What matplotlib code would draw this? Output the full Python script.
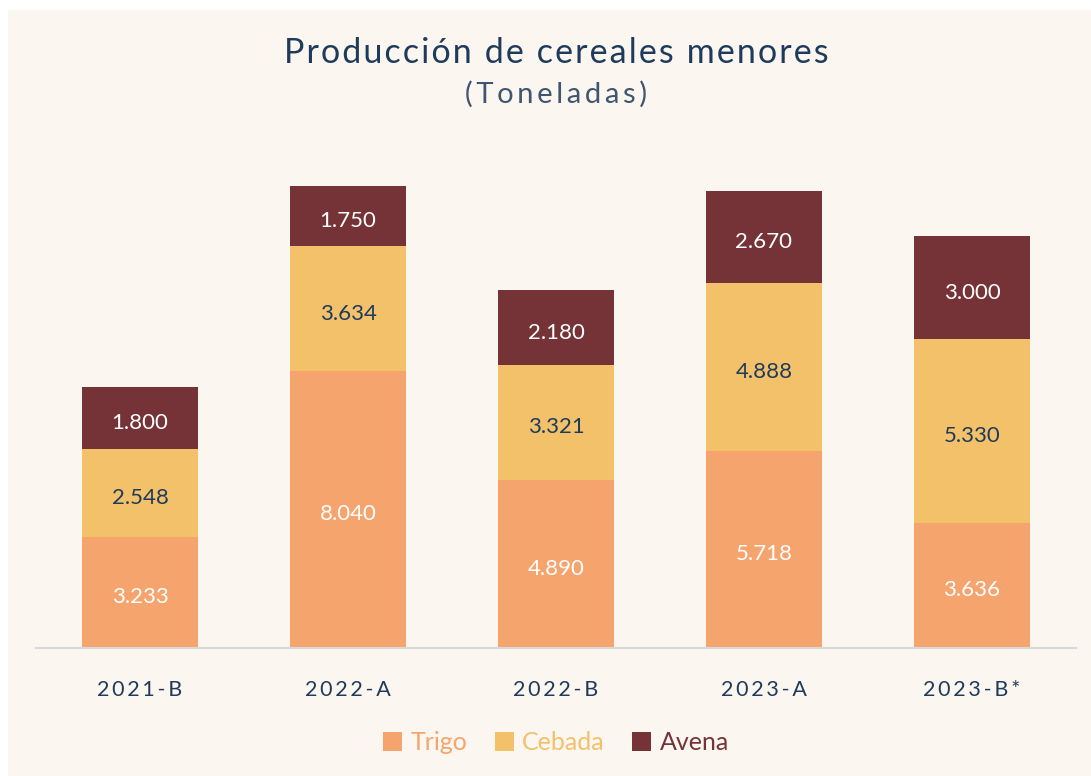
import matplotlib.pyplot as plt
from matplotlib.patches import Rectangle
import numpy as np

periodos = ['2021-B', '2022-A', '2022-B', '2023-A', '2023-B*']
trigo = [3233, 8040, 4890, 5718, 3636]
cebada = [2548, 3634, 3321, 4888, 5330]
avena = [1800, 1750, 2180, 2670, 3000]

fondo = '#FBF6EF'
azul = '#1F3B5C'
c_trigo = '#F5A46E'
c_cebada = '#F2C16A'
c_avena = '#763337'

plt.rcParams['font.family'] = ['Lato', 'DejaVu Sans']

def espaciar(s, sep='\u2009'):
    # imitar el espaciado amplio entre letras del original
    return sep.join(s)

fig = plt.figure(figsize=(10.91, 7.76), dpi=100, facecolor='white')
fig.patches.append(Rectangle((8/1091, 0), 1 - 8/1091, 1 - 10/776,
                             transform=fig.transFigure, facecolor=fondo,
                             edgecolor='none', zorder=-10))

ax = fig.add_axes([36/1091, 128/776, 1040/1091, 499/776])
ax.set_facecolor('none')

x = np.arange(len(periodos))
ancho = 0.558
trigo = np.array(trigo)
cebada = np.array(cebada)
avena = np.array(avena)

ax.bar(x, trigo, ancho, color=c_trigo, label='Trigo')
ax.bar(x, cebada, ancho, bottom=trigo, color=c_cebada, label='Cebada')
ax.bar(x, avena, ancho, bottom=trigo + cebada, color=c_avena, label='Avena')

def fmt(v):
    return f'{v:,}'.replace(',', '.')

dy = -80  # los números quedan un poco por debajo del centro
for i in range(len(x)):
    ax.text(x[i], trigo[i] / 2 + dy, fmt(trigo[i]), ha='center', va='center_baseline',
            color='white', fontsize=16)
    ax.text(x[i], trigo[i] + cebada[i] / 2 + dy, fmt(cebada[i]), ha='center',
            va='center_baseline', color=azul, fontsize=16)
    ax.text(x[i], trigo[i] + cebada[i] + avena[i] / 2 + dy, fmt(avena[i]), ha='center',
            va='center_baseline', color='white', fontsize=16)

ax.set_xlim(-0.5, len(x) - 0.5)
ax.set_ylim(0, 14500)
ax.set_yticks([])
for s in ['top', 'right', 'left']:
    ax.spines[s].set_visible(False)
ax.spines['bottom'].set_color('#D9D9D9')
ax.spines['bottom'].set_linewidth(1.5)
ax.set_xticks(x)
ax.set_xticklabels([espaciar(p) for p in periodos], fontsize=15.5, color=azul)
ax.tick_params(axis='x', length=0, pad=23)

fig.text(0.510, 1 - 53/776, espaciar('Producción de cereales menores', '\u200a'),
         ha='center', va='center', fontsize=24.5, color=azul)
fig.text(0.510, 1 - 94/776, espaciar('(Toneladas)', '\u2009'), ha='center',
         va='center', fontsize=21, color='#3F5670')

leg = ax.legend(loc='center', bbox_to_anchor=(0.5, -0.19), ncol=3, frameon=False,
                fontsize=18, handlelength=0.75, handleheight=0.75, handletextpad=0.35,
                columnspacing=1.1)
for t, c in zip(leg.get_texts(), [c_trigo, c_cebada, c_avena]):
    t.set_color(c)

fig.savefig('out.png', dpi=100, facecolor=fig.get_facecolor())
